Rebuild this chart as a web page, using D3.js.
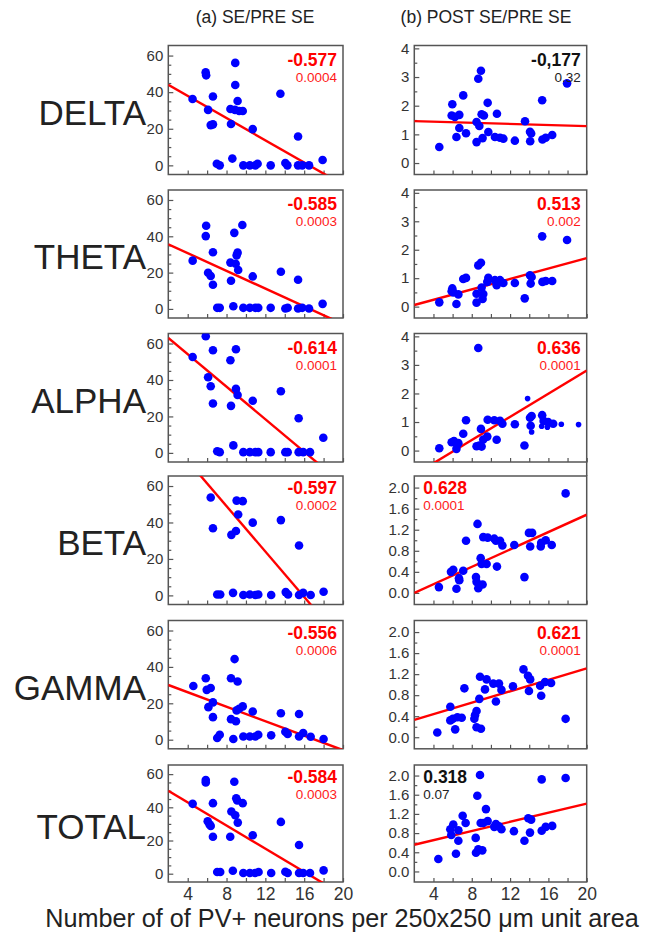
<!DOCTYPE html>
<html>
<head>
<meta charset="utf-8">
<script src="https://cdn.jsdelivr.net/npm/d3@7"></script>
<style>
  body { margin: 0; background: #fff; }
  svg { font-family: "Liberation Sans", Arial, sans-serif; }
  .frame { fill: none; stroke: #555; stroke-width: 1.5; }
  .tick line { stroke: #555; stroke-width: 1.2; }
  .tick text { fill: #333; }
</style>
</head>
<body>
<svg id="chart" width="656" height="932"></svg>
<script>
var bands = ["DELTA", "THETA", "ALPHA", "BETA", "GAMMA", "TOTAL"];
var xLabels = [4, 8, 12, 16, 20];

// (a) SE/PRE SE
var deltaSE = [[4.5,36.3],[5.85,50.8],[5.9,49.2],[6.1,30.3],[6.37,22.0],[6.6,22.4],[6.6,37.6],[7.0,0.9],[7.3,0],[8.6,3.7],[8.4,30.8],[8.46,22.6],[8.9,56],[8.9,43.9],[8.87,30.3],[9.14,35.2],[9.3,29.7],[9.67,29.7],[9.73,0],[10.4,0],[10.7,19.8],[10.97,0],[11.2,0.9],[12.55,0],[13.55,39.1],[14.06,1.3],[14.27,0],[15.37,15.8],[15.37,0],[15.8,0],[16.5,0],[17.9,2.9]];
var thetaSE = [[4.51,26.6],[5.86,40.1],[5.9,45.8],[6.1,19.9],[6.37,18.1],[6.6,31.2],[6.6,13.3],[7.04,0.6],[7.3,0.6],[8.4,25.5],[8.46,15.5],[8.7,1.5],[8.8,41.9],[8.94,24.9],[9.04,29.5],[9.14,31],[9.2,21.4],[9.63,46.2],[9.73,0.6],[10.4,0.6],[10.7,17.9],[10.97,0.6],[11.27,0.6],[12.55,0.6],[13.6,20.5],[14.06,0.2],[14.3,0.6],[15.37,16.1],[15.37,0.2],[15.8,0.6],[16.5,0.2],[17.9,2.8]];
var alphaSE = [[4.51,52.6],[5.86,64],[6.1,41.5],[6.37,36.6],[6.6,56.3],[6.6,27.1],[7.04,0.9],[7.3,0.4],[8.4,50.8],[8.46,25.8],[8.7,4.1],[8.97,56.9],[8.97,35.1],[9.14,31.8],[9.73,0.4],[10.4,0.4],[10.7,28.6],[10.97,0.4],[11.27,0.4],[12.55,0.4],[13.6,33.8],[14.06,0.4],[14.3,0.4],[15.43,19],[15.43,0.4],[15.9,0.4],[16.6,0.4],[17.97,8.3]];
var betaSE = [[6.37,53.7],[6.6,36.8],[7.04,0.5],[7.35,0.5],[8.5,33.2],[8.67,1.4],[8.97,35.3],[9.04,52],[9.2,44.4],[9.67,51.7],[9.73,0.2],[10.4,0.5],[10.7,39.9],[10.97,0.2],[11.27,0.5],[12.6,0.2],[13.6,41.3],[14.1,1.8],[14.34,0.5],[15.47,27.4],[15.47,0.2],[15.9,1.4],[16.67,0.2],[18.0,2]];
var gammaSE = [[4.58,29.5],[5.86,33.8],[5.96,27.4],[6.13,17.9],[6.37,28.4],[6.6,20.5],[6.6,12.4],[7.04,0.9],[7.3,2.7],[8.46,33.8],[8.46,11.3],[8.7,0.4],[8.83,44.3],[8.97,10.1],[9.04,16.1],[9.14,32],[9.3,17],[9.67,18.3],[9.73,1.8],[10.4,1.8],[10.7,15.5],[10.97,1.8],[11.27,2.7],[12.6,2.4],[13.6,14.5],[14.06,4.4],[14.3,3.1],[15.47,14.1],[15.47,1.8],[15.9,3.7],[16.67,1.6],[18.0,0.4]];
var totalSE = [[4.51,42.1],[5.86,56.4],[5.86,55],[6.06,31.6],[6.24,29.8],[6.37,28.8],[6.6,42.5],[6.6,22.3],[7.04,1],[7.35,1],[8.38,22.3],[8.5,37.5],[8.65,1.8],[8.8,55.4],[8.9,35.2],[9.0,45.5],[9.1,44.1],[9.16,30.8],[9.67,42.5],[9.73,0.4],[10.4,0.4],[10.7,23.2],[10.94,0.4],[11.3,1],[12.6,0.4],[13.6,31.2],[14.06,1.2],[14.3,0.4],[15.47,17.3],[15.47,0.4],[15.9,0.4],[16.6,0.4],[18.0,2]];

// (b) POST SE/PRE SE
var deltaPost = [[4.61,0.56],[5.97,2.05],[5.9,1.66],[6.24,1.61],[6.4,0.91],[6.7,1.68],[6.7,1.22],[7.11,2.36],[7.4,1.04],[8.5,0.73],[8.5,1.43],[8.68,2.94],[8.79,1.29],[8.96,3.22],[9.03,1.7],[9.13,0.87],[9.27,1.66],[9.66,2.1],[9.73,1.08],[10.42,0.91],[10.63,1.72],[10.95,0.88],[11.3,0.85],[12.5,0.78],[13.56,1.46],[14.08,1.09],[14.2,1.03],[14.1,0.76],[15.35,2.19],[15.38,0.82],[15.72,0.88],[16.4,0.98],[17.95,2.78]];
var thetaPost = [[4.61,0.15],[5.9,0.54],[5.97,0.64],[6.07,0.5],[6.4,0.09],[6.6,0.43],[7.11,0.97],[7.4,1.01],[8.5,0.14],[8.5,0.45],[8.68,1.45],[8.96,1.54],[9.03,0.67],[9.13,0.27],[9.2,0.44],[9.62,0.87],[9.73,1.01],[10.42,0.93],[10.6,0.75],[10.95,0.93],[11.3,0.83],[12.5,0.83],[13.53,0.29],[14.08,1.1],[14.15,0.81],[14.25,1.04],[15.35,2.47],[15.38,0.87],[15.72,0.9],[16.4,0.9],[17.95,2.34]];
var alphaPost = [[4.61,0.08],[5.9,0.29],[6.14,0.33],[6.4,0.06],[6.6,0.26],[7.11,0.59],[7.4,1.06],[8.5,0.15],[8.68,3.59],[8.79,0.18],[8.96,0.76],[9.03,0.14],[9.2,0.39],[9.62,0.49],[9.66,1.08],[10.35,1.06],[10.6,0.38],[10.95,1.04],[11.2,0.94],[12.5,0.92],[13.5,0.18],[14.08,1.15],[14.25,1.21],[14.15,0.87],[15.35,1.24],[15.5,1.04],[15.97,1.0],[16.5,0.94]];
var alphaPostSmall = [[13.83,1.82],[14.25,0.65],[15.3,0.85],[15.9,0.82],[17.35,0.92],[19.15,0.91]];
var betaPost = [[4.57,0.11],[5.83,0.4],[6.07,0.44],[6.4,0.08],[6.66,0.28],[6.7,0.24],[7.11,0.42],[7.4,0.99],[8.44,0.3],[8.5,0.21],[8.6,1.31],[8.68,0.09],[8.93,0.66],[9.03,0.55],[9.13,0.16],[9.2,1.06],[9.55,0.55],[9.66,1.05],[10.35,1.03],[10.52,0.99],[10.63,0.5],[10.95,0.99],[11.2,0.9],[12.44,0.91],[13.5,0.3],[13.97,1.14],[14.3,1.14],[14.1,0.88],[15.2,0.88],[15.25,0.95],[15.72,1.0],[16.35,0.91],[17.8,1.89]];
var gammaPost = [[4.4,0.09],[5.76,0.58],[5.76,0.32],[6.03,0.35],[6.27,0.15],[6.5,0.38],[6.95,0.37],[7.23,0.93],[8.27,0.35],[8.34,0.42],[8.5,0.5],[8.5,0.19],[8.79,0.73],[8.86,1.15],[8.96,0.16],[9.38,0.91],[9.55,1.1],[10.25,1.02],[10.52,0.68],[10.84,1.02],[11.1,0.9],[12.3,0.97],[13.4,1.29],[13.87,1.17],[14.1,1.1],[13.97,0.88],[15.14,0.98],[15.25,0.79],[15.65,1.05],[16.28,1.03],[17.8,0.35]];
var totalPost = [[4.51,0.26],[5.76,0.88],[5.86,0.76],[6.07,0.98],[6.35,0.37],[6.6,0.86],[6.6,0.64],[7.05,1.16],[7.36,1.01],[8.41,0.7],[8.44,0.39],[8.58,1.58],[8.68,0.46],[8.86,2.01],[8.93,1.01],[9.1,0.44],[9.2,1.01],[9.48,1.3],[9.66,1.05],[10.35,0.93],[10.52,0.99],[10.84,0.94],[11.1,0.88],[12.4,0.84],[13.5,0.64],[13.9,1.11],[14.08,0.81],[14.2,1.08],[15.3,1.92],[15.3,0.85],[15.72,0.93],[16.4,0.95],[17.8,1.95]];

var seData = [deltaSE, thetaSE, alphaSE, betaSE, gammaSE, totalSE];
var postData = [deltaPost, thetaPost, alphaPost, betaPost, gammaPost, totalPost];

// correlation and p value shown in each panel
var rSE = ["-0.577", "-0.585", "-0.614", "-0.597", "-0.556", "-0.584"];
var pSE = ["0.0004", "0.0003", "0.0001", "0.0002", "0.0006", "0.0003"];
var rPost = ["-0,177", "0.513", "0.636", "0.628", "0.621", "0.318"];
var pPost = ["0.32", "0.002", "0.0001", "0.0001", "0.0001", "0.07"];

// regression lines: [intercept, slope]
var fitSE = [[50.06,-3.031],[40.5,-2.443],[72.0,-4.462],[98.76,-6.225],[34.06,-1.99],[56.86,-3.483]];
var fitPost = [[1.481,-0.00972],[-0.125,0.0915],[-1.253,0.2027],[-0.165,0.0825],[0.221,0.0544],[0.462,0.0477]];

var svg = d3.select("#chart");
var rowTop = [45.5, 190, 333.5, 476, 620.5, 765];
var rowBottom = [174.5, 318, 462, 604.5, 748.8, 882];
var cols = [{left: 168.3, right: 343}, {left: 414.3, right: 586.7}];

function drawPanel(row, col) {
    var c = cols[col];
    var top = rowTop[row], bottom = rowBottom[row];
    var x = d3.scaleLinear().domain([2, 20]).range([c.left, c.right]);
    var yDom, yTicks, yLabelEvery, fmt;
    if (col == 0) {
        yDom = [-5, 65.5]; yTicks = d3.range(0, 61, 5); yLabelEvery = 20; fmt = d3.format("d");
    } else if (row < 3) {
        yDom = [-0.4, 4.1]; yTicks = d3.range(0, 4.01, 0.5); yLabelEvery = 1; fmt = d3.format("d");
    } else {
        yDom = [-0.22, 2.22]; yTicks = d3.range(0, 2.01, 0.2); yLabelEvery = 0.4; fmt = d3.format(".1f");
    }
    var y = d3.scaleLinear().domain(yDom).range([bottom, top]);
    var g = svg.append("g");
    var clipId = "clip" + row + "_" + col;

    g.append("clipPath").attr("id", clipId)
        .append("rect")
        .attr("x", c.left).attr("y", top)
        .attr("width", c.right - c.left).attr("height", bottom - top);

    // y axis
    var yAxis = d3.axisLeft(y)
        .tickValues(yTicks)
        .tickSize(-4)
        .tickPadding(5)
        .tickFormat(function(d) {
            var k = Math.round(d / yLabelEvery * 1000) / 1000;
            return Math.abs(k - Math.round(k)) < 1e-6 ? fmt(d) : "";
        });
    var ya = g.append("g").attr("transform", "translate(" + c.left + ",0)").call(yAxis);
    ya.select(".domain").remove();
    ya.selectAll(".tick text").attr("font-size", 15);
    ya.selectAll(".tick line").attr("x2", function(d) {
        var k = d / yLabelEvery;
        return Math.abs(k - Math.round(k)) < 1e-6 ? 5 : 3;
    });

    // x axis
    var xAxis = d3.axisBottom(x)
        .tickValues(d3.range(4, 20.01, 2))
        .tickSize(-4)
        .tickPadding(6)
        .tickFormat(function(d) { return (row == 5 && xLabels.indexOf(d) >= 0) ? d : ""; });
    var xa = g.append("g").attr("transform", "translate(0," + bottom + ")").call(xAxis);
    xa.select(".domain").remove();
    xa.selectAll(".tick text").attr("font-size", 17.5).attr("fill", "#222");

    g.append("rect").attr("class", "frame")
        .attr("x", c.left).attr("y", top)
        .attr("width", c.right - c.left).attr("height", bottom - top);

    var pts = col == 0 ? seData[row] : postData[row];
    var fit = col == 0 ? fitSE[row] : fitPost[row];

    var plot = g.append("g").attr("clip-path", "url(#" + clipId + ")");

    plot.append("line")
        .attr("x1", x(2)).attr("y1", y(fit[0] + fit[1] * 2))
        .attr("x2", x(20)).attr("y2", y(fit[0] + fit[1] * 20))
        .attr("stroke", "#ff0000")
        .attr("stroke-width", 2.4);

    plot.selectAll("circle.big")
        .data(pts)
        .enter()
        .append("circle")
        .attr("cx", function(d) { return x(d[0]); })
        .attr("cy", function(d) { return y(d[1]); })
        .attr("r", 4.3)
        .attr("fill", "#0000ff");

    if (col == 1 && row == 2) {
        plot.selectAll("circle.small")
            .data(alphaPostSmall)
            .enter()
            .append("circle")
            .attr("cx", function(d) { return x(d[0]); })
            .attr("cy", function(d) { return y(d[1]); })
            .attr("r", 2.8)
            .attr("fill", "#0000ff");
    }

    // r and p annotation
    var rTxt = col == 0 ? rSE[row] : rPost[row];
    var pTxt = col == 0 ? pSE[row] : pPost[row];
    var sig = parseFloat(pTxt) < 0.05;
    var onLeft = col == 1 && (row == 3 || row == 5);
    var tx = onLeft ? c.left + 9 : c.right - 6;
    var anchor = onLeft ? "start" : "end";
    var shift = row >= 3 ? -2 : 0;

    g.append("text")
        .attr("x", tx).attr("y", top + 20 + shift)
        .attr("text-anchor", anchor)
        .attr("font-size", 17.5)
        .attr("font-weight", "bold")
        .attr("fill", sig ? "#ff0000" : "#111")
        .text(rTxt);

    g.append("text")
        .attr("x", tx).attr("y", top + 36 + shift)
        .attr("text-anchor", anchor)
        .attr("font-size", 13.5)
        .attr("fill", sig ? "#ff1a1a" : "#222")
        .text(pTxt);
}

function drawAll() {
    for (var i = 0; i < bands.length; i++) {
        drawPanel(i, 0);
        drawPanel(i, 1);

        svg.append("text")
            .attr("x", 146)
            .attr("y", (rowTop[i] + rowBottom[i]) / 2 + 15)
            .attr("text-anchor", "end")
            .attr("font-size", 35)
            .attr("fill", "#222")
            .text(bands[i]);
    }

    // stray joining line between ALPHA and BETA right panels
    svg.append("line")
        .attr("x1", cols[1].right).attr("x2", cols[1].right)
        .attr("y1", rowBottom[2]).attr("y2", rowTop[3])
        .attr("stroke", "#555").attr("stroke-width", 1.5);

    svg.append("text")
        .attr("x", 255).attr("y", 23)
        .attr("text-anchor", "middle")
        .attr("font-size", 17.5)
        .attr("fill", "#222")
        .text("(a) SE/PRE SE");

    svg.append("text")
        .attr("x", 486).attr("y", 23)
        .attr("text-anchor", "middle")
        .attr("font-size", 17.5)
        .attr("fill", "#222")
        .text("(b) POST SE/PRE SE");

    svg.append("text")
        .attr("x", 342).attr("y", 927)
        .attr("text-anchor", "middle")
        .attr("font-size", 25.2)
        .attr("fill", "#222")
        .text("Number of of PV+ neurons per 250x250 \u03bcm unit area");
}

drawAll();
</script>
</body>
</html>
